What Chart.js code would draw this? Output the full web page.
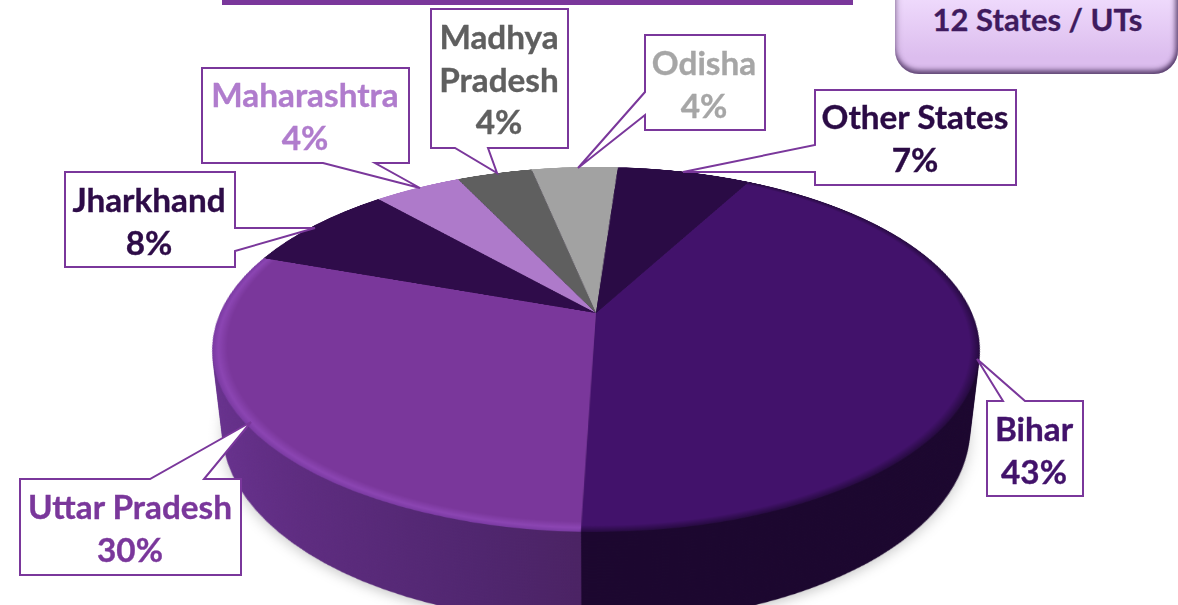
<!DOCTYPE html>
<html><head><meta charset="utf-8">
<script src="https://cdn.jsdelivr.net/npm/chart.js@4"></script>
<style>
html,body{margin:0;padding:0;background:#fff;width:1178px;height:605px;overflow:hidden;font-family:Lato,"Open Sans",sans-serif}
#stage{position:absolute;left:0;top:0;width:1178px;height:605px;overflow:hidden}
#stage canvas{position:absolute;left:211px;top:-72px;width:770px;height:770px}
#bar{position:absolute;left:222px;top:0;width:631px;height:5px;background:#7a379b}
#btn{position:absolute;left:895px;top:-40px;width:283px;height:114px;border-radius:0 0 24px 24px;
 background:linear-gradient(#f0dcfd 30%,#dcbdee 85%);
 box-shadow:inset 0 -5px 5px -1px rgba(60,35,80,.72),inset -5px 0 5px -2px rgba(60,35,80,.6),inset 5px 0 6px -3px rgba(60,35,80,.25)}
#btnt{position:absolute;left:896px;top:-1px;width:283px;text-align:center;font-weight:700;font-size:31px;line-height:40px;color:#3f1b5e;-webkit-text-stroke:.3px #3f1b5e}
svg{position:absolute;left:0;top:0}
.lb{position:absolute;text-align:center;font-weight:700;font-size:33.3px;line-height:42.5px;white-space:nowrap;transform:translateX(-50%);-webkit-text-stroke:.35px currentColor}
</style></head><body>
<div id="stage">
<div id="layerBox"></div>
<div id="bar"></div>
<div id="btn"></div>
<div id="btnt">12 States / UTs</div>
<svg width="1178" height="605" id="sv"></svg>
</div>
<script>
const categories=["Bihar","Uttar Pradesh","Jharkhand","Maharashtra","Madhya Pradesh","Odisha","Other States"];
const shares=[42.6,29.9,8.0,4.45,3.85,4.4,6.8];
const shareLabels=["43%","30%","8%","4%","4%","4%","7%"];
const faceColors=["#42126b","#7a379b","#2f0c4a","#ae7aca","#5f5f5f","#a2a2a2","#2a0b45"];
const textColors=["#42126b","#7a379b","#2e0c48","#b07ccd","#5f5f5f","#a6a6a6","#2b0b45"];
const nameLines=[["Bihar"],["Uttar Pradesh"],["Jharkhand"],["Maharashtra"],["Madhya","Pradesh"],["Odisha"],["Other States"]];
const callouts=[
 {d:"M987 401H1003L977 359L1025 401H1083V496H987Z",cx:1034,y:407},
 {d:"M20 479H150L251 422L204 479H241V575H20Z",cx:130,y:485},
 {d:"M65 172H235V228H315L235 251V267H65Z",cx:149,y:178},
 {d:"M202 68H409V163H375L420 188L323 163H202Z",cx:305,y:73},
 {d:"M431 9H568V148H488L497 173L455 148H431Z",cx:499,y:15},
 {d:"M645 35H765V130H645V115L578 168L645 92Z",cx:704,y:41},
 {d:"M815 90H1016V185H815V172H683L815 145Z",cx:915,y:95}
];
const SIZE=770, CENTER=385, PAD=9, TILT="perspective(1670px) rotateX(62.2deg)";
const START=28.5;
const layerBox=document.getElementById('layerBox');
function makeCanvas(z,extra){
  const c=document.createElement('canvas');c.width=SIZE;c.height=SIZE;
  c.style.transform=TILT+" translateZ("+z+"px)";
  if(extra)c.style.filter=extra;
  layerBox.appendChild(c);return c;
}
function pie(c,colors){
  return new Chart(c,{type:'pie',data:{labels:categories,datasets:[{data:shares,backgroundColor:colors,borderWidth:0,hoverOffset:0}]},
   options:{responsive:false,animation:false,devicePixelRatio:1,rotation:START,layout:{padding:PAD},
   plugins:{legend:{display:false},tooltip:{enabled:false}}}});
}
// ground shadow
pie(makeCanvas(-96,"blur(7px)"),categories.map(()=> "rgba(0,0,0,.2)"));
// extruded wall
const DEPTH=92, STEP=3;
for(let z=-DEPTH;z<0;z+=STEP){
  const c=makeCanvas(z);const x=c.getContext('2d');
  const g=x.createLinearGradient(0,0,370,0);
  g.addColorStop(0,"#6a3391");g.addColorStop(.35,"#5e2c80");g.addColorStop(.78,"#50266f");g.addColorStop(1,"#4b2364");
  pie(c,["#1c072f",g,"#1c072f","#1c072f","#1c072f","#1c072f","#1c072f"]);
}
// top face with a bevelled rim
const faceCanvas=makeCanvas(0);const tx=faceCanvas.getContext('2d');
const R=(SIZE-2*PAD)/2;
const gU=tx.createRadialGradient(CENTER,CENTER,0,CENTER,CENTER,R);
gU.addColorStop(0,"#7a379b");gU.addColorStop(.962,"#7a379b");gU.addColorStop(.985,"#8b45b2");gU.addColorStop(1,"#7a3aa2");
const gB=tx.createRadialGradient(CENTER,CENTER,0,CENTER,CENTER,R);
gB.addColorStop(0,"#42126b");gB.addColorStop(.975,"#42126b");gB.addColorStop(1,"#260a40");
pie(faceCanvas,[gB,gU].concat(faceColors.slice(2)));
// callouts
const NS="http://www.w3.org/2000/svg",sv=document.getElementById('sv'),st=document.getElementById('stage');
categories.forEach((n,i)=>{
  const p=document.createElementNS(NS,'path');p.setAttribute('d',callouts[i].d);
  p.setAttribute('fill','#fff');p.setAttribute('stroke','#7a379b');p.setAttribute('stroke-width','2');
  sv.appendChild(p);
  const t=document.createElement('div');t.className='lb';
  t.style.left=callouts[i].cx+'px';t.style.top=callouts[i].y+'px';t.style.color=textColors[i];
  nameLines[i].concat([shareLabels[i]]).forEach(l=>{const d=document.createElement('div');d.textContent=l;t.appendChild(d);});
  st.appendChild(t);
});
</script>
</body></html>
